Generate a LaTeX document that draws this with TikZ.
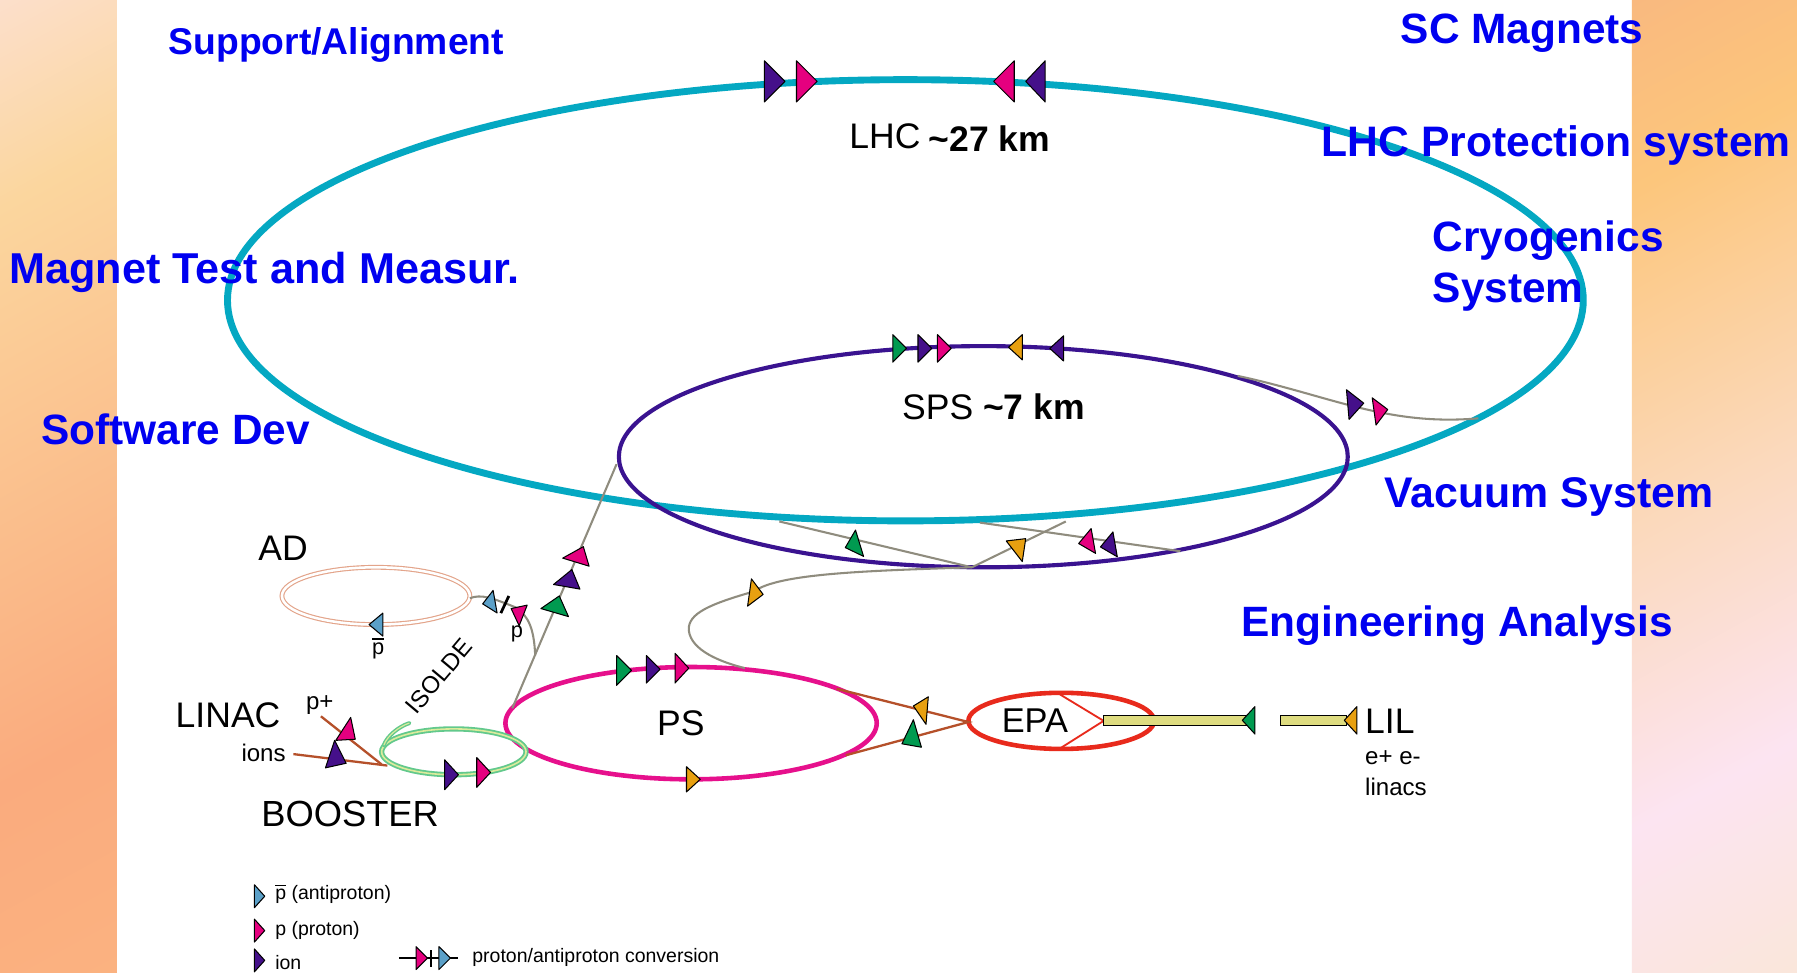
\documentclass[tikz,border=0pt]{standalone}
\usepackage{fontspec}
\setmainfont{Liberation Sans}
\usetikzlibrary{shapes.geometric}
\definecolor{cion}{HTML}{45108A}
\definecolor{cpink}{HTML}{E5007F}
\definecolor{cgreen}{HTML}{009A50}
\definecolor{corange}{HTML}{E8A010}
\definecolor{cblue}{HTML}{5BA0C8}
\definecolor{clhc}{HTML}{04A8C2}
\definecolor{csps}{HTML}{3A1390}
\definecolor{cps}{HTML}{E6108C}
\definecolor{cepa}{HTML}{E82A1C}
\definecolor{cgray}{HTML}{8F8C7E}
\definecolor{cbrown}{HTML}{B5502A}
\definecolor{ckhaki}{HTML}{DEDC80}
\definecolor{ctitle}{HTML}{0000F0}
\definecolor{cboost}{HTML}{62C98C}
\definecolor{cboostin}{HTML}{DCEB9C}
\definecolor{cad}{HTML}{E3A48A}
\definecolor{la}{HTML}{FCDFCB}
\definecolor{lb}{HTML}{FBD69E}
\definecolor{lc}{HTML}{FAAB7E}
\definecolor{ld}{HTML}{FBB280}
\definecolor{ra}{HTML}{F9B97F}
\definecolor{rb}{HTML}{FCC67C}
\definecolor{rc}{HTML}{FBD9BC}
\definecolor{rd}{HTML}{FCE4F1}
\definecolor{re}{HTML}{FAE6DA}
\pgfdeclareverticalshading{leftband}{100bp}{color(0bp)=(ld);color(25bp)=(ld);color(37bp)=(lc);color(65bp)=(lb);color(75bp)=(la);color(100bp)=(la)}
\pgfdeclareverticalshading{rightband}{100bp}{color(0bp)=(re);color(25bp)=(re);color(36bp)=(rd);color(50bp)=(rc);color(66bp)=(rb);color(75bp)=(ra);color(100bp)=(ra)}
\newcommand{\fs}[1]{\fontsize{#1}{#1}\selectfont}
\newcommand{\pbar}{\rlap{\raisebox{0.66em}{\rule{0.56em}{0.07em}}}p}
% base x, base y, angle, colour, length, half width
\newcommand{\tri}[6]{\draw[black,line width=0.9pt,line join=round,fill=#4,shift={(#1,#2)},rotate=#3] (0,-#6) -- (#5,0) -- (0,#6) -- cycle;}
\newcommand{\poly}[4]{\draw[black,line width=0.9pt,line join=round,fill=#1] #2 -- #3 -- #4 -- cycle;}
\tikzset{
 ring/.style={ellipse,draw,inner sep=0pt,outer sep=0pt},
 big/.style={font=\fs{37}\bfseries,text=ctitle,inner sep=0pt,anchor=west},
 lab/.style={font=\fs{31},text=black,inner sep=0pt},
 small/.style={font=\fs{21},text=black,inner sep=0pt},
 leg/.style={font=\fs{17},text=black,inner sep=0pt,anchor=west},
 gline/.style={cgray,line width=1.8pt},
 bline/.style={cbrown,line width=2pt}
}
\begin{document}
\begin{tikzpicture}[x=1pt,y=-1pt]
\useasboundingbox (0,0) rectangle (1568,849);
\fill[white] (0,0) rectangle (1568,849);
\begin{scope}
\clip (0,0) rectangle (102,849);
\begin{scope}[transform canvas={cm={1,0.55,0,1,(0,0)}}]
\shade[shading=leftband] (0,0) rectangle (102,905);
\end{scope}
\end{scope}
\begin{scope}
\clip (1424,0) rectangle (1568,849);
\begin{scope}[transform canvas={shift={(1424pt,0pt)},cm={1,0.55,0,1,(0,0)}}]
\shade[shading=rightband] (0,0) rectangle (144,930);
\end{scope}
\end{scope}

% rings
\node[ring,clhc,line width=6pt,minimum width=1183pt,minimum height=385pt] (LHC) at (790,262) {};
\node[ring,csps,line width=3.6pt,minimum width=636pt,minimum height=193pt] (SPS) at (858,398.5) {};
\node[ring,cps,line width=4pt,minimum width=324pt,minimum height=98pt] (PS) at (603,631) {};
\node[ring,draw=cepa,line width=4pt,minimum width=162pt,minimum height=49pt] (EPA) at (926,629) {};
\node[ring,draw=cad,double=white,double distance=2.2pt,line width=1pt,minimum width=164pt,minimum height=50pt] (AD) at (328,520) {};

% connector coordinates
\coordinate (j1) at (1080,328); \coordinate (j2) at (1290,365);
\coordinate (k1) at (680,455); \coordinate (k2) at (848,495);
\coordinate (k3) at (930,455); \coordinate (k4) at (855,456); \coordinate (k5) at (1030,481);
\coordinate (s1) at (650,583); \coordinate (s2) at (658,516);
\coordinate (q1) at (447,618); \coordinate (q2) at (538,405);
\coordinate (q3) at (467,572); \coordinate (q4) at (450,530);
\coordinate (a1) at (410,522); \coordinate (a2) at (450,530);
\coordinate (b1) at (280,625); \coordinate (b2) at (333,667);
\coordinate (b3) at (256,658); \coordinate (b4) at (338,668);
\coordinate (e1) at (730,601); \coordinate (e2) at (738,659); \coordinate (e3) at (845,630);

\draw[gline] (j1) .. controls (1160,345) and (1210,372) .. (j2);
\draw[gline] (k1) -- (k2);
\draw[gline] (k2) -- (k3);
\draw[gline] (k4) -- (k5);
\draw[gline] (k2) .. controls (760,498) and (680,500) .. (s2) .. controls (620,527) and (600,535) .. (601,550) .. controls (603,568) and (630,578) .. (s1);
\draw[gline] (q1) -- (q2);
\draw[gline] (q3) .. controls (466,550) and (462,538) .. (q4);
\draw[gline] (a1) .. controls (420,518) and (430,522) .. (a2);
\draw[bline] (b1) -- (b2);
\draw[bline] (b3) -- (b4);
\draw[bline] (e1) -- (e3) -- (e2);
\draw[black,line width=2.4pt] (444,520) -- (437,535);

% booster
\node[ring,draw=cboost,double=cboostin,double distance=1.4pt,line width=1.6pt,minimum width=126pt,minimum height=40pt] (BOOST) at (396,656) {};
\coordinate (w1) at (335,650); \coordinate (w2) at (357,631);
\draw[cboost,line width=3.5pt,line cap=round] (w1) .. controls (338,642) and (348,634) .. (w2);
\draw[cboostin,line width=1pt,line cap=round] (w1) .. controls (338,642) and (348,634) .. (w2);

% EPA inner
\coordinate (e4) at (925,606); \coordinate (e5) at (963,629); \coordinate (e6) at (925,653);
\draw[cepa,line width=1.6pt] (e4) -- (e5) -- (e6);

% linac bars
\draw[black,line width=1pt,fill=ckhaki] (963,624) rectangle (1090,633);
\draw[black,line width=1pt,fill=ckhaki] (1117,624) rectangle (1175,633);
\tri{1095}{628.5}{180}{cgreen}{11}{12}
\tri{1184}{628.5}{180}{corange}{11}{12}

% LHC triangles
\tri{667}{71}{0}{cion}{18}{18}
\tri{695}{71}{0}{cpink}{18}{18}
\tri{885}{71}{180}{cpink}{18}{18}
\tri{912}{71}{180}{cion}{17}{18}
% SPS triangles
\tri{779}{304}{0}{cgreen}{12}{12}
\tri{801}{304}{0}{cion}{12}{12}
\tri{818}{304}{0}{cpink}{12}{12}
\tri{892}{303}{180}{corange}{12}{11}
\tri{928}{304}{180}{cion}{12}{11}
% transfer line triangles
\tri{1176}{353}{5}{cion}{14}{13}
\tri{1199}{359}{8}{cpink}{12}{12}
\tri{750}{474}{197}{cgreen}{13}{12}
\tri{954}{472}{190}{cpink}{13}{11}
\tri{973}{475}{190}{cion}{13}{11}
\poly{corange}{(878,472)}{(895,470)}{(892,490)}
\tri{654}{517}{-8}{corange}{12}{12}
% PS
\tri{538}{585}{0}{cgreen}{13}{13}
\tri{564}{584}{0}{cion}{12}{12}
\tri{589}{583}{0}{cpink}{12}{13}
\tri{599}{680}{0}{corange}{12}{11}
% PS to EPA
\poly{corange}{(797,616)}{(810,608)}{(808,632)}
\poly{cgreen}{(787,649)}{(797,628)}{(804,652)}
% BOOSTER
\tri{388}{676}{0}{cion}{12}{13}
\tri{416}{674}{0}{cpink}{12}{13}
\poly{cpink}{(293,646)}{(306,626)}{(310,645)}
\poly{cion}{(284,670)}{(292,646)}{(302,666)}
% PS-SPS line
\poly{cgreen}{(472,531)}{(488,520)}{(496,538)}
\poly{cion}{(483,510)}{(499,497)}{(506,514)}
\poly{cpink}{(491,487)}{(509,477)}{(514,494)}
% AD
\tri{334}{545}{180}{cblue}{12}{10}
\tri{432}{525}{190}{cblue}{11}{10}
\poly{cpink}{(446,531)}{(460,528)}{(453,546)}

% text
\node[lab,anchor=west] (tlhc) at (741,119) {LHC};
\node[lab,anchor=west,font=\fs{31}\bfseries] (tlhc2) at (810,121) {\textasciitilde27 km};
\node[lab,anchor=west] (tsps) at (787,355) {SPS \textbf{\textasciitilde7 km}};
\node[lab] (tps) at (594,631) {PS};
\node[lab,font=\fs{30}] (tepa) at (903,629) {EPA};
\node[lab] (tad) at (247,478) {AD};
\node[lab] (tlinac) at (199,624) {LINAC};
\node[lab,font=\fs{31.7}] (tboost) at (305.5,710) {BOOSTER};
\node[lab,anchor=west] (tlil) at (1191,629) {LIL};
\node[small,anchor=west] (te) at (1191,661) {e+ e-};
\node[small,anchor=west] (tlin) at (1191,687) {linacs};
\node[small] (tp1) at (279,615) {p+};
\node[small] (tions) at (230,657) {ions};
\node[small,rotate=50] (tiso) at (383,590) {ISOLDE};
\node[small,font=\fs{19}] (tp) at (451,553) {p};
\node[small,font=\fs{19}] (tpbar) at (330,566) {\pbar};

% legend
\tri{222}{782}{0}{cblue}{9}{10}
\tri{222}{812}{0}{cpink}{9}{10}
\tri{222}{838}{0}{cion}{9}{10}
\node[leg] (l1) at (240,780) {\pbar\ (antiproton)};
\node[leg] (l2) at (240,812) {p (proton)};
\node[leg] (l3) at (240,840) {ion};
\node[leg] (l4) at (412,835) {proton/antiproton conversion};
\coordinate (m1) at (348,836); \coordinate (m2) at (400,836);
\draw[black,line width=1.6pt] (m1) -- (m2);
\draw[black,line width=1.6pt] (376,829) -- (376,844);
\tri{363}{836}{0}{cpink}{10}{10}
\tri{383}{836}{0}{cblue}{10}{10}

% blue titles
\node[big,font=\fs{32.5}\bfseries] (t1) at (147,39) {Support/Alignment};
\node[big] (t2) at (1222,29) {SC Magnets};
\node[big,font=\fs{37.2}\bfseries] (t3) at (1153,127) {LHC Protection system};
\node[big] (t4) at (1250,210) {Cryogenics};
\node[big] (t5) at (1250,255) {System};
\node[big,font=\fs{37.7}\bfseries] (t6) at (8,238) {Magnet Test and Measur.};
\node[big] (t7) at (36,375) {Software Dev};
\node[big,font=\fs{37.4}\bfseries] (t8) at (1208,434) {Vacuum System};
\node[big] (t9) at (1083,546) {Engineering Analysis};
\end{tikzpicture}
\end{document}
